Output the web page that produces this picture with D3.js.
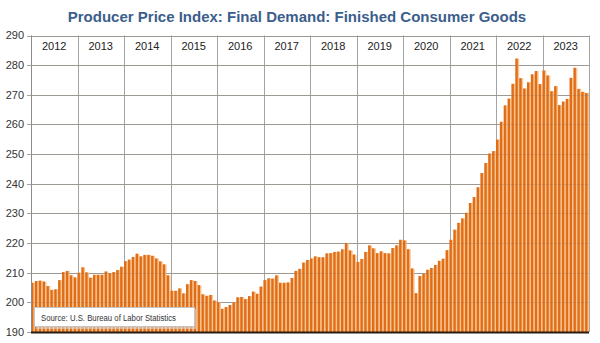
<!DOCTYPE html>
<html lang="en">
  <head>
    <meta charset="UTF-8" />
    <title>Producer Price Index: Final Demand: Finished Consumer Goods</title>
    <script src="https://d3js.org/d3.v7.min.js"></script>
    <style>
      body {
        margin: 0;
        background: #fff;
        font-family: "Liberation Sans", Arial, sans-serif;
      }
      .title {
        font-size: 15px;
        font-weight: bold;
        fill: #3b5e8c;
      }
      .ylab {
        font-size: 11px;
        fill: #333;
      }
      .yearlab {
        font-size: 11px;
        fill: #222;
      }
      .source {
        font-size: 8.5px;
        fill: #333;
      }
    </style>
  </head>
  <body>
    <svg width="600" height="343"></svg>

    <script>
      const years = [2012, 2013, 2014, 2015, 2016, 2017, 2018, 2019, 2020, 2021, 2022, 2023];

      // monthly index values, one row per year (Jan..Dec)
      const monthlyValues = [
        [206.6, 207.2, 207.3, 207.0, 205.5, 204.2, 204.4, 207.5, 210.2, 210.6, 209.1, 208.4],
        [210.0, 211.8, 210.1, 208.3, 209.3, 209.3, 209.3, 210.4, 209.8, 210.2, 210.9, 212.0],
        [213.9, 214.4, 215.3, 216.4, 215.5, 216.0, 216.0, 215.7, 214.8, 213.8, 212.8, 209.1],
        [203.9, 203.9, 204.7, 203.0, 206.1, 207.5, 207.2, 205.8, 202.7, 202.2, 202.5, 200.6],
        [200.0, 197.8, 198.4, 199.1, 200.0, 201.7, 201.8, 201.1, 202.1, 203.6, 202.9, 205.3],
        [207.5, 208.1, 208.0, 209.1, 206.6, 206.6, 206.7, 208.2, 210.6, 211.3, 213.4, 214.3],
        [214.8, 215.5, 215.2, 215.2, 216.5, 216.6, 217.0, 217.1, 217.9, 220.0, 217.5, 216.1],
        [213.6, 214.6, 217.0, 219.2, 218.2, 216.6, 217.2, 216.6, 216.5, 218.3, 219.2, 221.1],
        [220.9, 217.9, 211.4, 203.1, 208.9, 209.7, 211.0, 211.6, 212.6, 214.0, 214.7, 217.6],
        [221.1, 224.5, 226.8, 228.3, 230.2, 233.5, 235.5, 238.8, 243.6, 247.0, 250.2, 251.0],
        [254.9, 260.9, 266.4, 268.7, 273.7, 282.2, 275.6, 272.1, 274.2, 276.9, 278.0, 273.6],
        [278.2, 276.5, 271.2, 272.9, 266.5, 267.7, 268.6, 275.7, 279.1, 272.0, 271.0, 270.6],
      ];

      const yTicks = [190, 200, 210, 220, 230, 240, 250, 260, 270, 280, 290];

      const data = [];
      years.forEach((yr, i) => {
        monthlyValues[i].forEach((v, m) => {
          data.push({ key: yr + "-" + (m + 1), year: yr, month: m, value: v });
        });
      });

      const svg = d3.select("svg");
      const plotLeft = 31,
        plotRight = 589,
        plotTop = 35.5,
        plotBottom = 332;

      const x = d3
        .scaleBand()
        .domain(data.map((d) => d.key))
        .range([plotLeft, plotRight])
        .padding(0);

      const y = d3.scaleLinear().domain([190, 290]).range([plotBottom, plotTop]);

      // title
      svg
        .append("text")
        .attr("class", "title")
        .attr("x", 297)
        .attr("y", 22)
        .attr("text-anchor", "middle")
        .text("Producer Price Index: Final Demand: Finished Consumer Goods");

      // gridlines behind the bars
      const grid = svg.append("g");
      grid
        .selectAll("line.hy")
        .data(yTicks)
        .enter()
        .append("line")
        .attr("class", "hy")
        .attr("x1", plotLeft - 4)
        .attr("x2", plotRight)
        .attr("y1", (d) => Math.round(y(d)) + 0.5)
        .attr("y2", (d) => Math.round(y(d)) + 0.5)
        .attr("stroke", "#a4a4a4");

      const yearStarts = years.map((yr) => x(yr + "-1"));
      grid
        .selectAll("line.vy")
        .data(yearStarts.concat([plotRight]))
        .enter()
        .append("line")
        .attr("class", "vy")
        .attr("x1", (d) => Math.round(d) + 0.5)
        .attr("x2", (d) => Math.round(d) + 0.5)
        .attr("y1", plotTop)
        .attr("y2", plotBottom)
        .attr("stroke", "#a4a4a4");

      // bars: light body with a darker orange stripe
      const bw = x.bandwidth();
      const bars = svg.append("g");
      bars
        .selectAll("rect.light")
        .data(data)
        .enter()
        .append("rect")
        .attr("class", "light")
        .attr("x", (d) => x(d.key))
        .attr("width", bw)
        .attr("y", (d) => y(d.value))
        .attr("height", (d) => plotBottom - y(d.value))
        .attr("fill", "#f9c590");

      bars
        .selectAll("rect.dark")
        .data(data)
        .enter()
        .append("rect")
        .attr("class", "dark")
        .attr("x", (d) => x(d.key))
        .attr("width", bw * 0.62)
        .attr("y", (d) => y(d.value))
        .attr("height", (d) => plotBottom - y(d.value))
        .attr("fill", "#e06d18");

      // faint gridlines over the bars
      svg
        .append("g")
        .selectAll("line")
        .data(yTicks.slice(1))
        .enter()
        .append("line")
        .attr("x1", plotLeft)
        .attr("x2", plotRight)
        .attr("y1", (d) => Math.round(y(d)) + 0.5)
        .attr("y2", (d) => Math.round(y(d)) + 0.5)
        .attr("stroke", "#8a6a50")
        .attr("stroke-opacity", 0.18);

      // axis lines
      svg
        .append("line")
        .attr("x1", plotLeft + 0.5)
        .attr("x2", plotLeft + 0.5)
        .attr("y1", plotTop)
        .attr("y2", plotBottom)
        .attr("stroke", "#8c8c8c");

      svg
        .append("line")
        .attr("x1", plotLeft)
        .attr("x2", plotRight)
        .attr("y1", plotBottom + 0.5)
        .attr("y2", plotBottom + 0.5)
        .attr("stroke", "#2b1d10")
        .attr("stroke-width", 2);

      // y labels
      svg
        .append("g")
        .selectAll("text")
        .data(yTicks)
        .enter()
        .append("text")
        .attr("class", "ylab")
        .attr("x", 24)
        .attr("y", (d) => y(d))
        .attr("dy", "0.35em")
        .attr("text-anchor", "end")
        .text((d) => d);

      // year labels in the top band
      svg
        .append("g")
        .selectAll("text")
        .data(years)
        .enter()
        .append("text")
        .attr("class", "yearlab")
        .attr("x", (d) => x(d + "-1") + bw * 6)
        .attr("y", 50)
        .attr("text-anchor", "middle")
        .text((d) => d);

      // source box
      const src = svg.append("g");
      src
        .append("rect")
        .attr("x", 36)
        .attr("y", 309)
        .attr("width", 160)
        .attr("height", 20)
        .attr("fill", "#d9d9d9")
        .attr("opacity", 0.6);
      src
        .append("rect")
        .attr("x", 34.5)
        .attr("y", 307.5)
        .attr("width", 160)
        .attr("height", 19)
        .attr("fill", "#fff")
        .attr("stroke", "#c4c4c4");
      src
        .append("text")
        .attr("class", "source")
        .attr("x", 41)
        .attr("y", 320.5)
        .attr("textLength", 135)
        .attr("lengthAdjust", "spacingAndGlyphs")
        .text("Source: U.S. Bureau of Labor Statistics");
    </script>
  </body>
</html>
